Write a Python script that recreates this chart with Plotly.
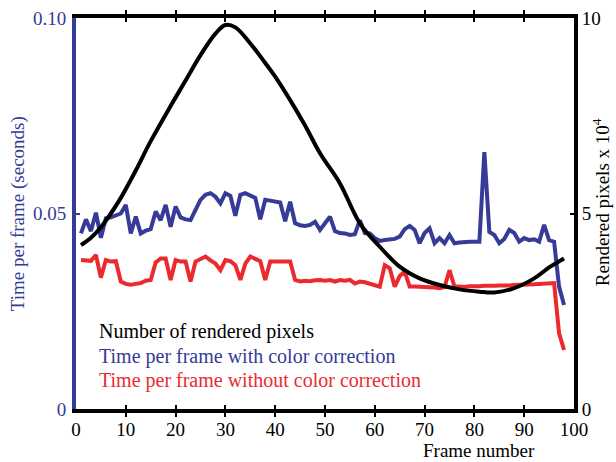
import plotly.graph_objects as go

frames = list(range(1, 99))

time_with_cc = [
    0.0449, 0.0485, 0.0455, 0.0502, 0.0438, 0.0488, 0.0490, 0.0495, 0.0500, 0.0522,
    0.0449, 0.0492, 0.0449, 0.0456, 0.0460, 0.0505, 0.0483, 0.0522, 0.0466, 0.0518,
    0.0490, 0.0485, 0.0483, 0.0509, 0.0535, 0.0548, 0.0552, 0.0543, 0.0526, 0.0552,
    0.0545, 0.0494, 0.0548, 0.0552, 0.0545, 0.0540, 0.0485, 0.0535, 0.0533, 0.0530,
    0.0528, 0.0480, 0.0530, 0.0475, 0.0470, 0.0468, 0.0471, 0.0479, 0.0458, 0.0475,
    0.0492, 0.0455, 0.0450, 0.0449, 0.0445, 0.0447, 0.0483, 0.0450, 0.0449, 0.0437,
    0.0430, 0.0432, 0.0434, 0.0435, 0.0441, 0.0460, 0.0468, 0.0458, 0.0424, 0.0450,
    0.0462, 0.0424, 0.0437, 0.0424, 0.0445, 0.0424, 0.0426, 0.0428, 0.0428, 0.0428,
    0.0428, 0.0657, 0.0453, 0.0445, 0.0424, 0.0435, 0.0458, 0.0450, 0.0428, 0.0437,
    0.0432, 0.0434, 0.0428, 0.0471, 0.0432, 0.0428, 0.0313, 0.0266,
]

time_without_cc = [
    0.0381, 0.0381, 0.0379, 0.0394, 0.0336, 0.0381, 0.0377, 0.0378, 0.0326, 0.0320,
    0.0318, 0.0320, 0.0322, 0.0328, 0.0330, 0.0375, 0.0385, 0.0385, 0.0330, 0.0381,
    0.0377, 0.0377, 0.0326, 0.0377, 0.0383, 0.0390, 0.0380, 0.0372, 0.0355, 0.0381,
    0.0378, 0.0368, 0.0330, 0.0372, 0.0390, 0.0385, 0.0378, 0.0330, 0.0377, 0.0377,
    0.0377, 0.0377, 0.0377, 0.0330, 0.0326, 0.0328, 0.0327, 0.0329, 0.0330, 0.0328,
    0.0330, 0.0326, 0.0330, 0.0328, 0.0330, 0.0321, 0.0326, 0.0324, 0.0320, 0.0318,
    0.0313, 0.0368, 0.0360, 0.0313, 0.0340, 0.0351, 0.0313, 0.0313, 0.0313, 0.0312,
    0.0313, 0.0311, 0.0309, 0.0312, 0.0355, 0.0313, 0.0313, 0.0312, 0.0314, 0.0313,
    0.0314, 0.0315, 0.0314, 0.0315, 0.0316, 0.0315, 0.0316, 0.0317, 0.0317, 0.0318,
    0.0318, 0.0319, 0.0320, 0.0320, 0.0321, 0.0322, 0.0194, 0.0151,
]

pixel_frames = [1, 3, 5, 7, 9, 12, 15, 19, 22, 25, 28, 30, 32, 35, 38, 40, 43, 46,
                49, 53, 57, 61, 65, 69, 73, 77, 81, 84, 88, 92, 95, 98]
rendered_pixels = [4.19, 4.38, 4.65, 5.0, 5.4, 6.1, 6.85, 7.75, 8.4, 9.05, 9.6,
                   9.82, 9.76, 9.35, 8.85, 8.5, 7.9, 7.25, 6.54, 5.77, 4.75, 4.15,
                   3.64, 3.34, 3.17, 3.06, 3.0, 2.98, 3.09, 3.34, 3.62, 3.85]

x_ticks = [0, 10, 20, 30, 40, 50, 60, 70, 80, 90, 100]
left_tickvals = [0, 0.05, 0.10]
left_ticktext = ["0", "0.05", "0.10"]
right_tickvals = [0, 5, 10]
right_ticktext = ["0", "5", "10"]

legend_labels = ["Number of rendered pixels",
                 "Time per frame with color correction",
                 "Time per frame without color correction"]

BLUE = "#353b97"
RED = "#ec2a2e"
BLACK = "#000000"
FONT = "Liberation Serif, Times New Roman, serif"
FS = 19

fig = go.Figure()
fig.add_trace(go.Scatter(x=frames, y=time_with_cc, mode="lines",
                         line=dict(color=BLUE, width=4), yaxis="y", showlegend=False))
fig.add_trace(go.Scatter(x=frames, y=time_without_cc, mode="lines",
                         line=dict(color=RED, width=4), yaxis="y", showlegend=False))
fig.add_trace(go.Scatter(x=pixel_frames, y=rendered_pixels, mode="lines",
                         line=dict(color=BLACK, width=4, shape="spline"),
                         yaxis="y2", showlegend=False))

legend_colors = [BLACK, BLUE, RED]
for i, (lab, col) in enumerate(zip(legend_labels, legend_colors)):
    fig.add_annotation(x=4.3, y=0.0197 - i * 0.0062, xref="x", yref="y",
                       text=lab, showarrow=False, xanchor="left", yanchor="middle",
                       font=dict(family=FONT, size=20, color=col))

fig.add_annotation(x=0.81, y=-0.105, xref="paper", yref="paper",
                   text="Frame number", showarrow=False, xanchor="center",
                   yanchor="middle", font=dict(family=FONT, size=FS, color=BLACK))

fig.add_annotation(x=-0.117, y=0.5, xref="paper", yref="paper", textangle=-90,
                   text="Time per frame (seconds)", showarrow=False,
                   xanchor="center", yanchor="middle",
                   font=dict(family=FONT, size=FS, color=BLUE))

fig.add_annotation(x=1.053, y=0.53, xref="paper", yref="paper", textangle=-90,
                   text="Rendered pixels x 10<sup>4</sup>", showarrow=False,
                   xanchor="center", yanchor="middle",
                   font=dict(family=FONT, size=FS, color=BLACK))

fig.update_layout(
    width=616, height=462,
    margin=dict(l=76, r=42, t=18, b=53, autoexpand=False),
    paper_bgcolor="white", plot_bgcolor="white",
    font=dict(family=FONT, size=FS, color=BLACK),
    xaxis=dict(range=[0, 100], tickvals=x_ticks, showgrid=False, zeroline=False,
               showline=True, linecolor=BLACK, linewidth=4, mirror="allticks",
               ticks="inside", ticklen=4, tickwidth=2, tickcolor=BLACK,
               automargin=False,
               tickfont=dict(family=FONT, size=FS, color=BLACK)),
    yaxis=dict(range=[0, 0.10], tickvals=left_tickvals, ticktext=left_ticktext,
               showgrid=False, zeroline=False, showline=True, linecolor=BLUE,
               linewidth=4, ticks="inside", ticklen=4, tickwidth=2, tickcolor=BLUE,
               automargin=False, ticklabelstandoff=2,
               tickfont=dict(family=FONT, size=FS, color=BLUE)),
    yaxis2=dict(range=[0, 10], tickvals=right_tickvals, ticktext=right_ticktext,
                overlaying="y", side="right", showgrid=False, zeroline=False,
                showline=True, linecolor=BLACK, linewidth=4, ticks="inside",
                ticklen=4, tickwidth=2, tickcolor=BLACK, automargin=False,
                tickfont=dict(family=FONT, size=FS, color=BLACK)),
)

fig.write_html("out.html", config={"displayModeBar": False},
               post_script="document.body.style.margin='0';")
